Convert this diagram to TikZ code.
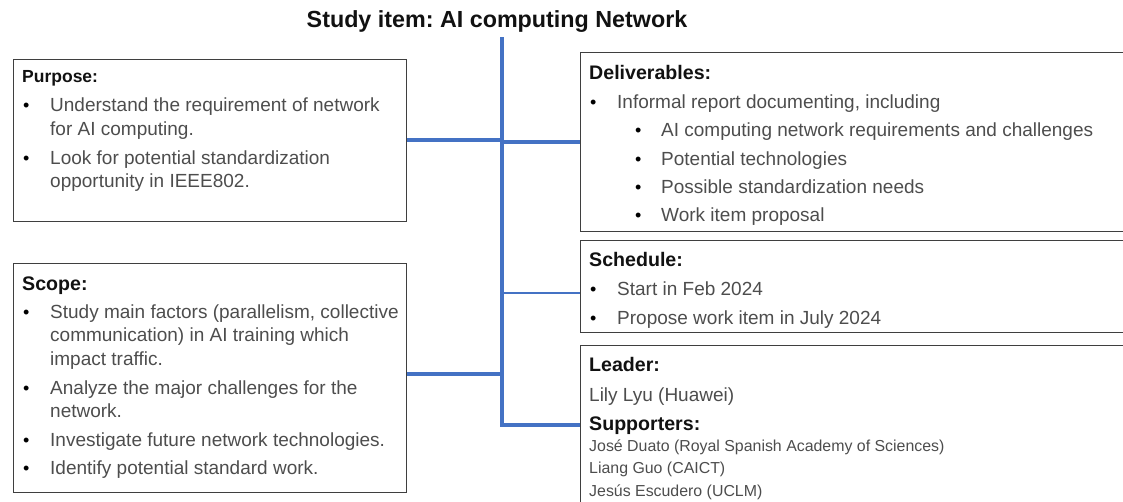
\documentclass[tikz,border=0pt]{standalone}
\usepackage{fontspec}
\setmainfont{Liberation Sans}
\frenchspacing
\definecolor{linkblue}{HTML}{4472C4}
\definecolor{boxgray}{HTML}{3F3F3F}
\definecolor{bodygray}{HTML}{4D4D4D}
\definecolor{headblack}{HTML}{111111}
\begin{document}
\begin{tikzpicture}[x=1pt,y=-1pt,
  box/.style={draw=boxgray, line width=1.2pt, inner sep=0pt, anchor=north west},
  conn/.style={draw=linkblue, line width=3.2pt, line join=miter},
  thinconn/.style={draw=linkblue, line width=1.5pt},
  titletext/.style={anchor=base, inner sep=0pt, text=headblack, font=\fontsize{23.3}{26}\selectfont\bfseries},
  head/.style={anchor=base west, inner sep=0pt, text=headblack, font=\fontsize{19.6}{22}\selectfont\bfseries},
  smallhead/.style={anchor=base west, inner sep=0pt, text=headblack, font=\fontsize{17.5}{20}\selectfont\bfseries},
  body/.style={anchor=base west, inner sep=0pt, text=bodygray, font=\fontsize{19}{22}\selectfont},
  smallbody/.style={anchor=base west, inner sep=0pt, text=bodygray, font=\fontsize{15.9}{18}\selectfont},
  bul/.style={anchor=base west, inner sep=0pt, text=black, font=\fontsize{18}{20}\selectfont}]
\useasboundingbox (0,0) rectangle (1123,501);
\clip (0,0) rectangle (1123,501);

% title
\node[titletext] (title) at (497,27) {Study item: AI computing Network};

% boxes
\node[box, minimum width=392.5pt, minimum height=162pt] (purpose) at (13,59) {};
\node[box, minimum width=392.5pt, minimum height=229pt] (scope) at (13,263) {};
\node[box, minimum width=560pt, minimum height=179pt] (deliv) at (580,52) {};
\node[box, minimum width=560pt, minimum height=92pt] (sched) at (580,240) {};
\node[box, minimum width=560pt, minimum height=170pt] (leader) at (580,345) {};

% connectors
\coordinate (trunktop) at (502,37);
\coordinate (jp) at (502,140);
\coordinate (jd) at (502,142);
\coordinate (js) at (502,293);
\coordinate (jsc) at (502,374);
\coordinate (jl) at (502,425);
\draw[conn] (trunktop) -- (jl) -- (leader.west |- jl);
\draw[conn] (purpose.east |- jp) -- (jp);
\draw[conn] (jd) -- (deliv.west |- jd);
\draw[conn] (scope.east |- jsc) -- (jsc);
\draw[thinconn] (js) -- (sched.west |- js);

% Purpose
\node[smallhead] (ph) at (22,82) {Purpose:};
\node[bul] (pb1) at (23,111) {•};
\node[body] (p1) at (50,111) {Understand the requirement of network};
\node[body] (p2) at (50,135) {for AI computing.};
\node[bul] (pb2) at (23,164) {•};
\node[body] (p3) at (50,164) {Look for potential standardization};
\node[body] (p4) at (50,187) {opportunity in IEEE802.};

% Scope
\node[head] (sh) at (22,290) {Scope:};
\node[bul] (sb1) at (23,318) {•};
\node[body] (s1) at (50,318) {Study main factors (parallelism, collective};
\node[body] (s2) at (50,341) {communication) in AI training which};
\node[body] (s3) at (50,365) {impact traffic.};
\node[bul] (sb2) at (23,394) {•};
\node[body] (s4) at (50,394) {Analyze the major challenges for the};
\node[body] (s5) at (50,417) {network.};
\node[bul] (sb3) at (23,446) {•};
\node[body] (s6) at (50,446) {Investigate future network technologies.};
\node[bul] (sb4) at (23,474) {•};
\node[body] (s7) at (50,474) {Identify potential standard work.};

% Deliverables
\node[head] (dh) at (589,79) {Deliverables:};
\node[bul] (db1) at (590,108) {•};
\node[body] (d1) at (617,108) {Informal report documenting, including};
\node[bul] (db2) at (635,136) {•};
\node[body] (d2) at (661,136) {AI computing network requirements and challenges};
\node[bul] (db3) at (635,165) {•};
\node[body] (d3) at (661,165) {Potential technologies};
\node[bul] (db4) at (635,193) {•};
\node[body] (d4) at (661,193) {Possible standardization needs};
\node[bul] (db5) at (635,221) {•};
\node[body] (d5) at (661,221) {Work item proposal};

% Schedule
\node[head] (ch) at (589,266) {Schedule:};
\node[bul] (cb1) at (590,295) {•};
\node[body] (c1) at (617,295) {Start in Feb 2024};
\node[bul] (cb2) at (590,324) {•};
\node[body] (c2) at (617,324) {Propose work item in July 2024};

% Leader
\node[head] (lh) at (589,371) {Leader:};
\node[body] (l1) at (589,401) {Lily Lyu (Huawei)};
\node[head] (uh) at (589,430) {Supporters:};
\node[smallbody] (u1) at (589,451) {José Duato (Royal Spanish Academy of Sciences)};
\node[smallbody] (u2) at (589,473) {Liang Guo (CAICT)};
\node[smallbody] (u3) at (589,496) {Jesús Escudero (UCLM)};
\end{tikzpicture}
\end{document}
